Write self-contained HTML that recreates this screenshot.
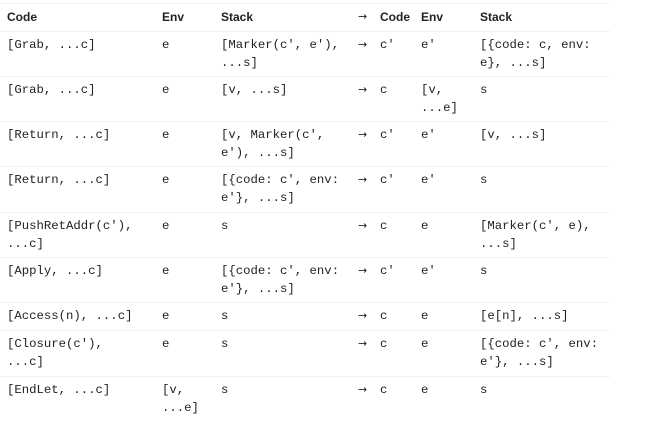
<!DOCTYPE html>
<html><head><style>
body{margin:0;width:645px;height:424px;background:#fff;position:relative;overflow:hidden;color:#222}
.l{position:absolute;left:0;width:610px;height:1px;background:#eef0f4}
.t{position:absolute;font-family:"Liberation Mono",monospace;font-size:12.3px;line-height:18px;white-space:pre}
.h{position:absolute;font-family:"Liberation Sans",sans-serif;font-weight:bold;font-size:12px;line-height:18px;top:8px}
.a{position:absolute;font-family:"DejaVu Sans",sans-serif;font-size:11px;line-height:18px}
</style></head><body>
<div class="l" style="top:3px"></div>
<div class="l" style="top:31px"></div>
<div class="l" style="top:76px"></div>
<div class="l" style="top:121px"></div>
<div class="l" style="top:166px"></div>
<div class="l" style="top:212px"></div>
<div class="l" style="top:257px"></div>
<div class="l" style="top:302px"></div>
<div class="l" style="top:330px"></div>
<div class="l" style="top:376px"></div>
<div class="h" style="left:7px">Code</div>
<div class="h" style="left:162px">Env</div>
<div class="h" style="left:221px">Stack</div>
<div class="a" style="left:358px;top:8px">→</div>
<div class="h" style="left:380px">Code</div>
<div class="h" style="left:421px">Env</div>
<div class="h" style="left:480px">Stack</div>

<div style="position:absolute;top:36px;left:0">
<div class="t" style="left:7px">[Grab, ...c]</div><div class="t" style="left:162px">e</div><div class="t" style="left:221px">[Marker(c', e'),
...s]</div><div class="a" style="left:358px">→</div><div class="t" style="left:380px">c'</div><div class="t" style="left:421px">e'</div><div class="t" style="left:480px">[{code: c, env:
e}, ...s]</div></div>

<div style="position:absolute;top:81px;left:0">
<div class="t" style="left:7px">[Grab, ...c]</div><div class="t" style="left:162px">e</div><div class="t" style="left:221px">[v, ...s]</div><div class="a" style="left:358px">→</div><div class="t" style="left:380px">c</div><div class="t" style="left:421px">[v,
...e]</div><div class="t" style="left:480px">s</div></div>

<div style="position:absolute;top:126px;left:0">
<div class="t" style="left:7px">[Return, ...c]</div><div class="t" style="left:162px">e</div><div class="t" style="left:221px">[v, Marker(c',
e'), ...s]</div><div class="a" style="left:358px">→</div><div class="t" style="left:380px">c'</div><div class="t" style="left:421px">e'</div><div class="t" style="left:480px">[v, ...s]</div></div>

<div style="position:absolute;top:171px;left:0">
<div class="t" style="left:7px">[Return, ...c]</div><div class="t" style="left:162px">e</div><div class="t" style="left:221px">[{code: c', env:
e'}, ...s]</div><div class="a" style="left:358px">→</div><div class="t" style="left:380px">c'</div><div class="t" style="left:421px">e'</div><div class="t" style="left:480px">s</div></div>

<div style="position:absolute;top:217px;left:0">
<div class="t" style="left:7px">[PushRetAddr(c'),
...c]</div><div class="t" style="left:162px">e</div><div class="t" style="left:221px">s</div><div class="a" style="left:358px">→</div><div class="t" style="left:380px">c</div><div class="t" style="left:421px">e</div><div class="t" style="left:480px">[Marker(c', e),
...s]</div></div>

<div style="position:absolute;top:262px;left:0">
<div class="t" style="left:7px">[Apply, ...c]</div><div class="t" style="left:162px">e</div><div class="t" style="left:221px">[{code: c', env:
e'}, ...s]</div><div class="a" style="left:358px">→</div><div class="t" style="left:380px">c'</div><div class="t" style="left:421px">e'</div><div class="t" style="left:480px">s</div></div>

<div style="position:absolute;top:307px;left:0">
<div class="t" style="left:7px">[Access(n), ...c]</div><div class="t" style="left:162px">e</div><div class="t" style="left:221px">s</div><div class="a" style="left:358px">→</div><div class="t" style="left:380px">c</div><div class="t" style="left:421px">e</div><div class="t" style="left:480px">[e[n], ...s]</div></div>

<div style="position:absolute;top:335px;left:0">
<div class="t" style="left:7px">[Closure(c'),
...c]</div><div class="t" style="left:162px">e</div><div class="t" style="left:221px">s</div><div class="a" style="left:358px">→</div><div class="t" style="left:380px">c</div><div class="t" style="left:421px">e</div><div class="t" style="left:480px">[{code: c', env:
e'}, ...s]</div></div>

<div style="position:absolute;top:381px;left:0">
<div class="t" style="left:7px">[EndLet, ...c]</div><div class="t" style="left:162px">[v,
...e]</div><div class="t" style="left:221px">s</div><div class="a" style="left:358px">→</div><div class="t" style="left:380px">c</div><div class="t" style="left:421px">e</div><div class="t" style="left:480px">s</div></div>
</body></html>
